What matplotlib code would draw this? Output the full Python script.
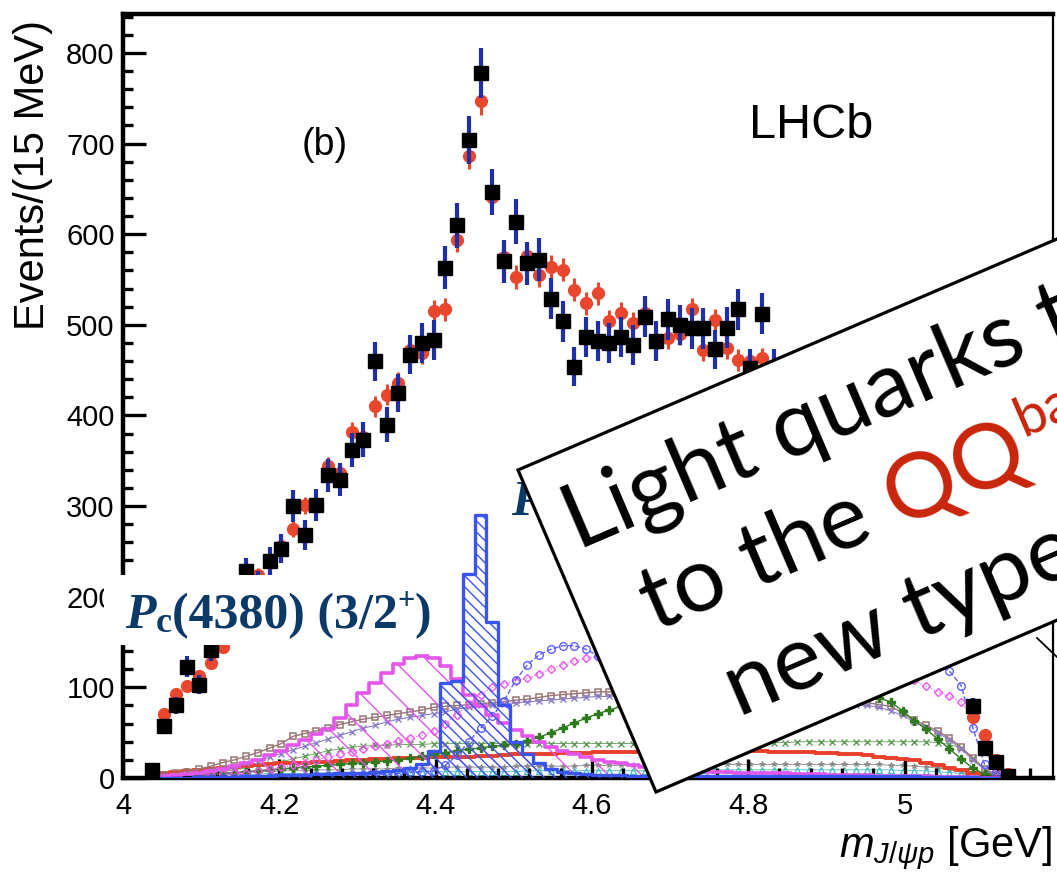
import numpy as np
import matplotlib
matplotlib.use('Agg')
import matplotlib.pyplot as plt
from matplotlib.patches import Polygon, Rectangle
from matplotlib.lines import Line2D
from matplotlib.ticker import MultipleLocator

W, H = 1057, 872

plt.rcParams['font.family'] = ['Liberation Sans', 'DejaVu Sans']
plt.rcParams['mathtext.fontset'] = 'custom'
plt.rcParams['mathtext.it'] = 'Liberation Sans:italic'
plt.rcParams['mathtext.rm'] = 'Liberation Sans'
plt.rcParams['hatch.linewidth'] = 1.0

# 15 MeV bins of m(J/psi p), first bin 4.030-4.045 GeV
n_bins = 74
mass = 4.0375 + 0.015 * np.arange(n_bins)

# data (black squares)
data = [9, 57, 80, 123, 103, 141, 168, 196, 228, 214,
        239, 253, 300, 268, 301, 334, 329, 362, 373, 460,
        390, 425, 467, 480, 483, 563, 610, 704, 778, 647,
        570, 614, 568, 572, 529, 504, 454, 487, 482, 480,
        487, 478, 509, 482, 506, 500, 496, 496, 473, 497,
        517, 452, 512, 452, 440, 445, 440, 448, 450, 430,
        438, 410, 402, 385, 360, 330, 290, 240, 200, 165,
        79, 33, 18, 2]

# total fit (red points)
fit = [10, 71, 93, 101, 112, 127, 145, 172, 200, 224,
       240, 256, 275, 301, 300, 344, 337, 382, 376, 410,
       423, 436, 472, 469, 515, 517, 594, 686, 747, 641,
       575, 553, 576, 555, 564, 561, 539, 524, 535, 504,
       513, 502, 513, 480, 485, 490, 517, 472, 505, 474,
       461, 460, 463, 450, 448, 455, 445, 440, 436, 430,
       424, 415, 405, 392, 378, 358, 330, 290, 235, 160,
       67, 47, 20, 4]

# fit components
pc4450 = [0, 0, 0, 0, 1, 1, 1, 1, 2, 2,
          2, 3, 3, 3, 4, 4, 5, 5, 6, 7,
          8, 9, 11, 15, 30, 105, 107, 225, 290, 172,
          80, 40, 27, 16, 10, 7, 5, 4, 3, 3,
          3, 2, 2, 2, 2, 2, 2, 2, 2, 2,
          2, 2, 2, 2, 2, 2, 2, 2, 2, 2,
          2, 2, 2, 2, 2, 2, 1, 1, 1, 1,
          1, 0, 0, 0]

pc4380 = [1, 2, 3, 4, 6, 8, 10, 13, 16, 20,
          25, 30, 36, 42, 48, 54, 66, 81, 94, 105,
          116, 126, 132, 135, 132, 124, 109, 92, 79, 70,
          61, 53, 46, 40, 34, 30, 26, 23, 20, 18,
          16, 14, 12, 11, 10, 9, 8, 8, 7, 7,
          6, 6, 5, 5, 5, 4, 4, 4, 3, 3,
          3, 3, 2, 2, 2, 2, 2, 1, 1, 1,
          1, 0, 0, 0]

blue_circ = [0, 0, 0, 0, 0, 0, 0, 0, 0, 0,
             1, 1, 1, 1, 2, 2, 2, 3, 3, 4,
             4, 5, 6, 7, 8, 14, 25, 40, 55, 68,
             85, 108, 125, 136, 142, 146, 146, 142, 135, 126,
             118, 112, 107, 103, 100, 98, 96, 95, 95, 96,
             97, 99, 101, 104, 107, 110, 113, 116, 119, 122,
             125, 127, 129, 130, 131, 131, 130, 126, 118, 102,
             55, 15, 3, 0]

mag_dia = [0, 1, 1, 2, 2, 3, 4, 5, 6, 8,
           10, 12, 14, 17, 20, 23, 26, 29, 32, 35,
           38, 41, 44, 47, 52, 60, 70, 82, 92, 100,
           104, 107, 110, 115, 120, 125, 129, 132, 134, 133,
           131, 128, 125, 122, 120, 118, 117, 116, 116, 116,
           117, 118, 119, 120, 121, 122, 123, 124, 124, 124,
           123, 122, 121, 120, 116, 108, 101, 95, 90, 84,
           65, 30, 8, 0]

brown_sq = [1, 3, 5, 7, 10, 13, 17, 20, 24, 28,
            33, 38, 46, 49, 52, 55, 59, 62, 65, 67,
            69, 71, 73, 75, 78, 79, 80, 81, 82, 83,
            84, 86, 87, 89, 91, 92, 93, 94, 95, 95,
            96, 96, 96, 96, 95, 95, 94, 94, 93, 93,
            92, 92, 91, 90, 90, 89, 88, 87, 86, 85,
            84, 83, 81, 79, 72, 64, 58, 52, 44, 34,
            22, 10, 3, 0]

lav_x = [0, 1, 2, 4, 6, 8, 10, 13, 16, 19,
         23, 27, 31, 35, 39, 43, 47, 51, 55, 58,
         62, 65, 67, 69, 71, 73, 76, 78, 80, 81,
         82, 83, 84, 85, 86, 87, 88, 89, 90, 90,
         91, 91, 91, 91, 91, 90, 90, 90, 89, 89,
         88, 88, 87, 87, 86, 85, 85, 84, 83, 82,
         81, 80, 78, 74, 69, 62, 56, 50, 42, 32,
         20, 9, 2, 0]

green_plus = [0, 1, 1, 2, 3, 4, 5, 6, 7, 8,
              9, 10, 11, 12, 13, 14, 15, 16, 17, 18,
              19, 20, 22, 24, 26, 28, 30, 32, 33, 35,
              36, 38, 41, 45, 50, 55, 61, 66, 71, 75,
              79, 82, 84, 86, 88, 90, 91, 92, 93, 94,
              94, 95, 95, 95, 95, 94, 94, 93, 92, 91,
              92, 90, 88, 84, 74, 63, 54, 43, 32, 21,
              11, 4, 1, 0]

green_x = [0, 1, 2, 3, 4, 6, 7, 9, 11, 13,
           15, 18, 21, 24, 27, 30, 32, 34, 35, 36,
           36, 37, 37, 37, 38, 38, 38, 38, 38, 38,
           38, 38, 38, 38, 38, 38, 38, 38, 38, 38,
           38, 38, 38, 38, 39, 39, 39, 39, 39, 39,
           39, 39, 39, 39, 39, 40, 40, 40, 40, 40,
           40, 40, 40, 40, 40, 40, 40, 39, 37, 33,
           22, 10, 3, 0]

red_line = [5, 6, 7, 8, 9, 10, 11, 12, 13, 14,
            15, 16, 16, 17, 18, 18, 19, 20, 20, 21,
            21, 22, 22, 22, 23, 23, 23, 23, 24, 24,
            25, 26, 27, 27, 27, 28, 28, 28, 29, 29,
            29, 29, 29, 29, 28, 28, 28, 28, 29, 29,
            30, 30, 30, 29, 29, 29, 29, 28, 28, 27,
            26, 25, 23, 22, 21, 20, 17, 14, 11, 9,
            6, 4, 2, 0]

gray_z = [2, 3, 3, 4, 4, 5, 5, 6, 6, 7,
          7, 8, 8, 8, 9, 9, 9, 10, 10, 10,
          10, 11, 11, 11, 11, 12, 12, 12, 12, 12,
          12, 13, 13, 13, 13, 13, 13, 14, 14, 14,
          14, 14, 14, 14, 15, 15, 15, 15, 15, 15,
          15, 15, 15, 15, 15, 15, 15, 15, 15, 15,
          15, 15, 15, 14, 14, 13, 12, 11, 9, 7,
          5, 3, 1, 0]

cyan_tri = [1, 2, 2, 3, 3, 3, 4, 4, 4, 4,
            5, 5, 5, 5, 5, 6, 6, 6, 6, 6,
            6, 6, 7, 7, 7, 7, 7, 7, 7, 7,
            7, 7, 8, 8, 8, 8, 8, 8, 8, 8,
            8, 8, 8, 8, 9, 9, 9, 9, 9, 9,
            9, 9, 9, 9, 9, 9, 9, 9, 9, 9,
            9, 9, 9, 9, 8, 8, 8, 7, 6, 5,
            4, 2, 1, 0]

x_ticks = [4.0, 4.2, 4.4, 4.6, 4.8, 5.0]
x_ticklabels = ['4', '4.2', '4.4', '4.6', '4.8', '5']
y_ticks = [0, 100, 200, 300, 400, 500, 600, 700, 800]

navy = '#0b3a68'
red_q = '#c8250c'


def fx(px):
    return px / W


def fy(py):
    return 1 - py / H


fig = plt.figure(figsize=(W / 100, H / 100), dpi=100)
ax = fig.add_axes([fx(123), fy(778), (1053 - 123) / W, (778 - 14) / H])

# components
ms = 3.8
ax.plot(mass, green_x, color='#5e9a55', marker='x', ms=ms, mew=1.0, lw=0.6, zorder=1)
ax.plot(mass, gray_z, color='#8a8a8a', marker='*', ms=ms, mew=0.6, lw=0.6, zorder=1)
ax.plot(mass, cyan_tri, color='#3fb8c0', marker='^', ms=ms, mfc='none', mew=0.9, lw=0.6, zorder=1)
ax.step(mass, red_line, where='mid', color='#e8402a', lw=2.8, zorder=2)
ax.plot(mass, brown_sq, color='#9a7474', marker='s', ms=ms, mfc='none', mew=1.1, lw=1.0, zorder=2)
ax.plot(mass, lav_x, color='#8a7cc8', marker='x', ms=ms, mew=1.0, lw=0.8, zorder=2)
ax.plot(mass, green_plus, color='#2f7a1f', marker='P', ms=6, lw=1.0, zorder=2)
ax.plot(mass, mag_dia, color='#ee55ee', marker='D', ms=3.6, mfc='none', mew=1.0, lw=0.8, ls=':', zorder=2)
ax.plot(mass, blue_circ, color='#6060ff', marker='o', ms=5.5, mfc='none', mew=1.0, lw=1.0, ls='--', zorder=2)

ax.fill_between(mass, pc4380, step='mid', facecolor='none', edgecolor='#e455ec',
                hatch='\\', lw=0, zorder=2)
ax.step(mass, pc4380, where='mid', color='#e455ec', lw=2.6, zorder=3)
ax.fill_between(mass, pc4450, step='mid', facecolor='none', edgecolor='#3a55ee',
                hatch='\\\\\\', lw=0, zorder=3)
ax.step(mass, pc4450, where='mid', color='#3a55ee', lw=2.4, zorder=3)

# fit and data
fit_err = 0.55 * np.sqrt(fit)
ax.errorbar(mass, fit, yerr=fit_err, fmt='o', color='#e8472e', ms=8.5,
            ecolor='#e8472e', elinewidth=2.2, capsize=0, zorder=4)
ax.errorbar(mass, data, yerr=np.sqrt(data), fmt='s', color='black', ms=9.5,
            ecolor='#1f2fa8', elinewidth=3, capsize=0, zorder=5)

ax.set_xlim(4.0, 5.19)
ax.set_ylim(0, 843)
ax.set_xticks(x_ticks)
ax.set_xticklabels(x_ticklabels)
ax.set_yticks(y_ticks)
ax.xaxis.set_minor_locator(MultipleLocator(0.04))
ax.yaxis.set_minor_locator(MultipleLocator(20))
ax.tick_params(which='both', direction='in', width=2.4, labelsize=21,
               top=False, right=False)
ax.tick_params(axis='x', which='major', length=14, pad=10)
ax.tick_params(axis='y', which='major', length=16.5, pad=6)
ax.tick_params(which='minor', length=7)
for side in ['left', 'bottom', 'top']:
    ax.spines[side].set_linewidth(3.2)
ax.spines['right'].set_linewidth(1.6)

ax.text(4.228, (778 - 155) / 0.906, '(b)', fontsize=27, ha='left', va='baseline')
ax.text(4.801, (778 - 138) / 0.906, 'LHCb', fontsize=35, ha='left', va='baseline')

fig.text(fx(33), fy(175), 'Events/(15 MeV)', rotation=90, ha='center',
         va='center', fontsize=30)
fig.text(fx(1052), fy(857), r'$m_{J/\psi p}$ [GeV]', ha='right',
         va='baseline', fontsize=30)

renderer = fig.canvas.get_renderer()


def text_width(s, **kw):
    t = fig.text(0, 0, s, **kw)
    w = t.get_window_extent(renderer=renderer).width
    t.remove()
    return w


def chain(x_px, y_px, parts, zorder):
    x = x_px
    for s, size, style, dy in parts:
        kw = dict(fontsize=size, fontfamily='Liberation Serif', fontweight='bold',
                  fontstyle=style, color=navy)
        fig.text(fx(x), fy(y_px + dy), s, ha='left', va='baseline',
                 zorder=zorder, **kw)
        x += text_width(s, **kw)


# Pc(4380) label on a white patch
fig.add_artist(Rectangle((fx(104), fy(645)), (445 - 104) / W, (645 - 575) / H,
                         transform=fig.transFigure, facecolor='white',
                         edgecolor='none', zorder=5))
chain(125, 628, [('P', 36, 'italic', 0), ('c', 26, 'normal', 4),
                 ('(4380) (3/2', 36, 'normal', 0), ('+', 22, 'normal', -19),
                 (')', 36, 'normal', 0)], zorder=6)

# Pc(4450) label, mostly hidden by the slide box
chain(511, 515, [('P', 36, 'italic', 0), ('c', 26, 'normal', 4),
                 ('(4450) (5/2', 36, 'normal', 0)], zorder=4)
fig.add_artist(Line2D([fx(1037), fx(1057)], [fy(638), fy(657)],
                      transform=fig.transFigure, color='black', lw=1.3, zorder=4))

# rotated slide box
theta = np.deg2rad(23.2)
u = np.array([np.cos(theta), -np.sin(theta)])  # along text, pixel coords (y down)
tl = np.array([518.0, 470.0])
bl = np.array([656.0, 792.0])
corners = [tl, tl + 1200 * u, bl + 1200 * u, bl]
fig.add_artist(Polygon([(fx(c[0]), fy(c[1])) for c in corners], closed=True,
                       transform=fig.transFigure, facecolor='white',
                       edgecolor='black', lw=2.3, zorder=10))

box_font = dict(fontsize=66, fontfamily=['Lato', 'DejaVu Sans'])
rot = np.rad2deg(theta)


def rtext(p, s, color='black', **kw):
    fig.text(fx(p[0]), fy(p[1]), s, rotation=rot, rotation_mode='anchor',
             ha='left', va='baseline', color=color, zorder=11, **kw)


rtext(np.array([578.0, 550.0]), 'Light quarks tied', **box_font)
a2 = np.array([655.0, 632.0])
rtext(a2, 'to the', **box_font)
sp = text_width('x x', **box_font) - text_width('xx', **box_font)
a_q = a2 + (text_width('to the', **box_font) + sp) * u
rtext(a_q, 'QQ', color=red_q, **box_font)
nrm = np.array([-np.sin(theta), -np.cos(theta)])  # upward normal, pixel coords
a_b = a_q + (text_width('QQ', **box_font) + 4) * u + 34 * nrm
rtext(a_b, 'bar', color=red_q, fontsize=40, fontfamily=['Lato', 'DejaVu Sans'])
rtext(np.array([739.0, 717.0]), 'new type of', **box_font)

fig.savefig('out.png', dpi=100)
